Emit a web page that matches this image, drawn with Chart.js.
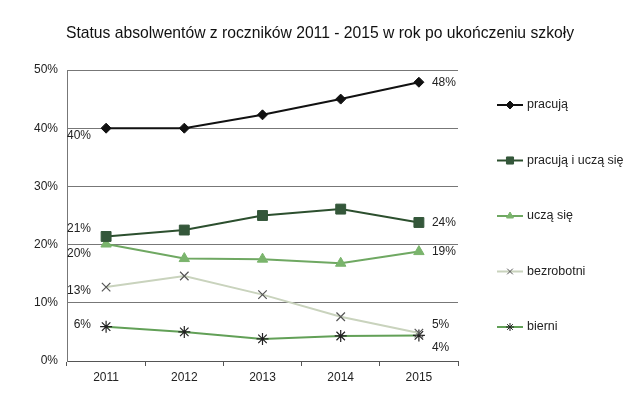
<!DOCTYPE html>
<html>
<head>
<meta charset="utf-8">
<script src="https://cdn.jsdelivr.net/npm/chart.js@4.4.0/dist/chart.umd.min.js"></script>
<style>
  html, body { margin: 0; padding: 0; background: #fff; }
</style>
</head>
<body>
<canvas id="myChart" width="640" height="409"></canvas>
<script>
// Categories (graduation year)
const years = ['2011', '2012', '2013', '2014', '2015'];

// Series values, in percent
const pracuja = [40, 40, 42.3, 45, 47.9];
const pracujaUcza = [21.4, 22.5, 25, 26.1, 23.8];
const uczaSie = [20.1, 17.6, 17.5, 16.8, 18.8];
const bezrobotni = [12.7, 14.6, 11.4, 7.6, 4.8];
const bierni = [5.9, 5.0, 3.8, 4.3, 4.4];

// Series names
const seriesNames = ['pracują', 'pracują i uczą się', 'uczą się', 'bezrobotni', 'bierni'];

// Y tick labels
const yTicks = [0, 10, 20, 30, 40, 50];

const chartTitle = 'Status absolwentów z roczników 2011 - 2015 w rok po ukończeniu szkoły';

const FONT = 'Liberation Sans, Arial, sans-serif';

// Per series style.
const styles = [
  { line: '#111111', point: '#111111', shape: 'rectRot', r: 5, lr: 4 },
  { line: '#2c4f2e', point: '#34573a', shape: 'rect', r: 7, lr: 5 },
  { line: '#6fa862', point: '#7ab46c', shape: 'triangle', r: 6, lr: 4 },
  { line: '#c9d3bd', point: '#555555', shape: 'crossRot', r: 6, lr: 4 },
  { line: '#62a057', point: '#222222', shape: 'star', r: 6, lr: 4 },
];

// Where the first / last value labels sit relative to their point.
const labelOffsets = [
  { first: 7, last: 0 },
  { first: -8, last: 0 },
  { first: 10, last: 0 },
  { first: 4, last: -8 },
  { first: -2, last: 12 },
];

const seriesData = [pracuja, pracujaUcza, uczaSie, bezrobotni, bierni];

const datasets = seriesData.map((vals, i) => ({
  label: seriesNames[i],
  data: vals,
  borderColor: styles[i].line,
  backgroundColor: styles[i].point,
  pointBorderColor: styles[i].point,
  pointBackgroundColor: styles[i].point,
  pointStyle: styles[i].shape,
  pointRadius: styles[i].r,
  pointBorderWidth: (styles[i].shape === 'crossRot' || styles[i].shape === 'star') ? 1.2 : 1,
  borderWidth: 2,
  tension: 0,
}));

// Title, centred on the whole picture.
const titlePlugin = {
  id: 'titlePlugin',
  afterDraw(chart) {
    const ctx = chart.ctx;
    ctx.save();
    ctx.font = '15.7px ' + FONT;
    ctx.fillStyle = '#111';
    ctx.textAlign = 'center';
    ctx.textBaseline = 'middle';
    ctx.fillText(chartTitle, 320, 34);
    ctx.restore();
  }
};

// Draw the value labels at both ends of each line.
const valueLabels = {
  id: 'valueLabels',
  afterDatasetsDraw(chart) {
    const ctx = chart.ctx;
    ctx.save();
    ctx.font = '12px ' + FONT;
    ctx.fillStyle = '#222';
    ctx.textBaseline = 'middle';
    chart.data.datasets.forEach((ds, i) => {
      const meta = chart.getDatasetMeta(i);
      const p0 = meta.data[0];
      const pN = meta.data[meta.data.length - 1];
      ctx.textAlign = 'right';
      ctx.fillText(Math.round(ds.data[0]) + '%', 91, p0.y + labelOffsets[i].first);
      ctx.textAlign = 'left';
      ctx.fillText(Math.round(ds.data[ds.data.length - 1]) + '%', pN.x + 13, pN.y + labelOffsets[i].last);
    });
    ctx.restore();
  }
};

// Custom legend with a short line and the marker on it.
const sideLegend = {
  id: 'sideLegend',
  afterDraw(chart) {
    const ctx = chart.ctx;
    ctx.save();
    chart.data.datasets.forEach((ds, i) => {
      const y = 105 + i * 55.5;
      ctx.strokeStyle = styles[i].line;
      ctx.lineWidth = 2;
      ctx.beginPath();
      ctx.moveTo(497, y);
      ctx.lineTo(523, y);
      ctx.stroke();
      ctx.fillStyle = styles[i].point;
      ctx.strokeStyle = styles[i].point;
      ctx.lineWidth = 1;
      Chart.helpers.drawPoint(ctx, { pointStyle: styles[i].shape, radius: styles[i].lr, rotation: 0, borderWidth: 1 }, 510, y);
      ctx.fillStyle = '#222';
      ctx.font = '12.5px ' + FONT;
      ctx.textAlign = 'left';
      ctx.textBaseline = 'middle';
      ctx.fillText(ds.label, 527, y);
    });
    ctx.restore();
  }
};

const config = {
  type: 'line',
  data: { labels: years, datasets: datasets },
  options: {
    responsive: false,
    animation: false,
    devicePixelRatio: 1,
    layout: { padding: { left: 12, right: 182, top: 70, bottom: 0 } },
    plugins: {
      legend: { display: false },
      tooltip: { enabled: false },
      title: { display: false },
    },
    scales: {
      x: {
        offset: true,
        grid: { offset: true, drawOnChartArea: false, drawTicks: true, tickLength: 5, color: '#555' },
        border: { color: '#555' },
        ticks: { color: '#222', font: { family: FONT, size: 12 }, padding: 4 },
        afterFit: (s) => { s.height = 48; },
      },
      y: {
        min: 0,
        max: 50,
        afterBuildTicks: (s) => { s.ticks = yTicks.map(v => ({ value: v })); },
        grid: { color: '#777', drawTicks: false },
        border: { color: '#777' },
        ticks: { color: '#222', font: { family: FONT, size: 12 }, padding: 9, callback: (v) => v + '%' },
        afterFit: (s) => { s.width = 55; },
      },
    },
  },
  plugins: [titlePlugin, valueLabels, sideLegend],
};

const chart = new Chart(document.getElementById('myChart'), config);
</script>
</body>
</html>
